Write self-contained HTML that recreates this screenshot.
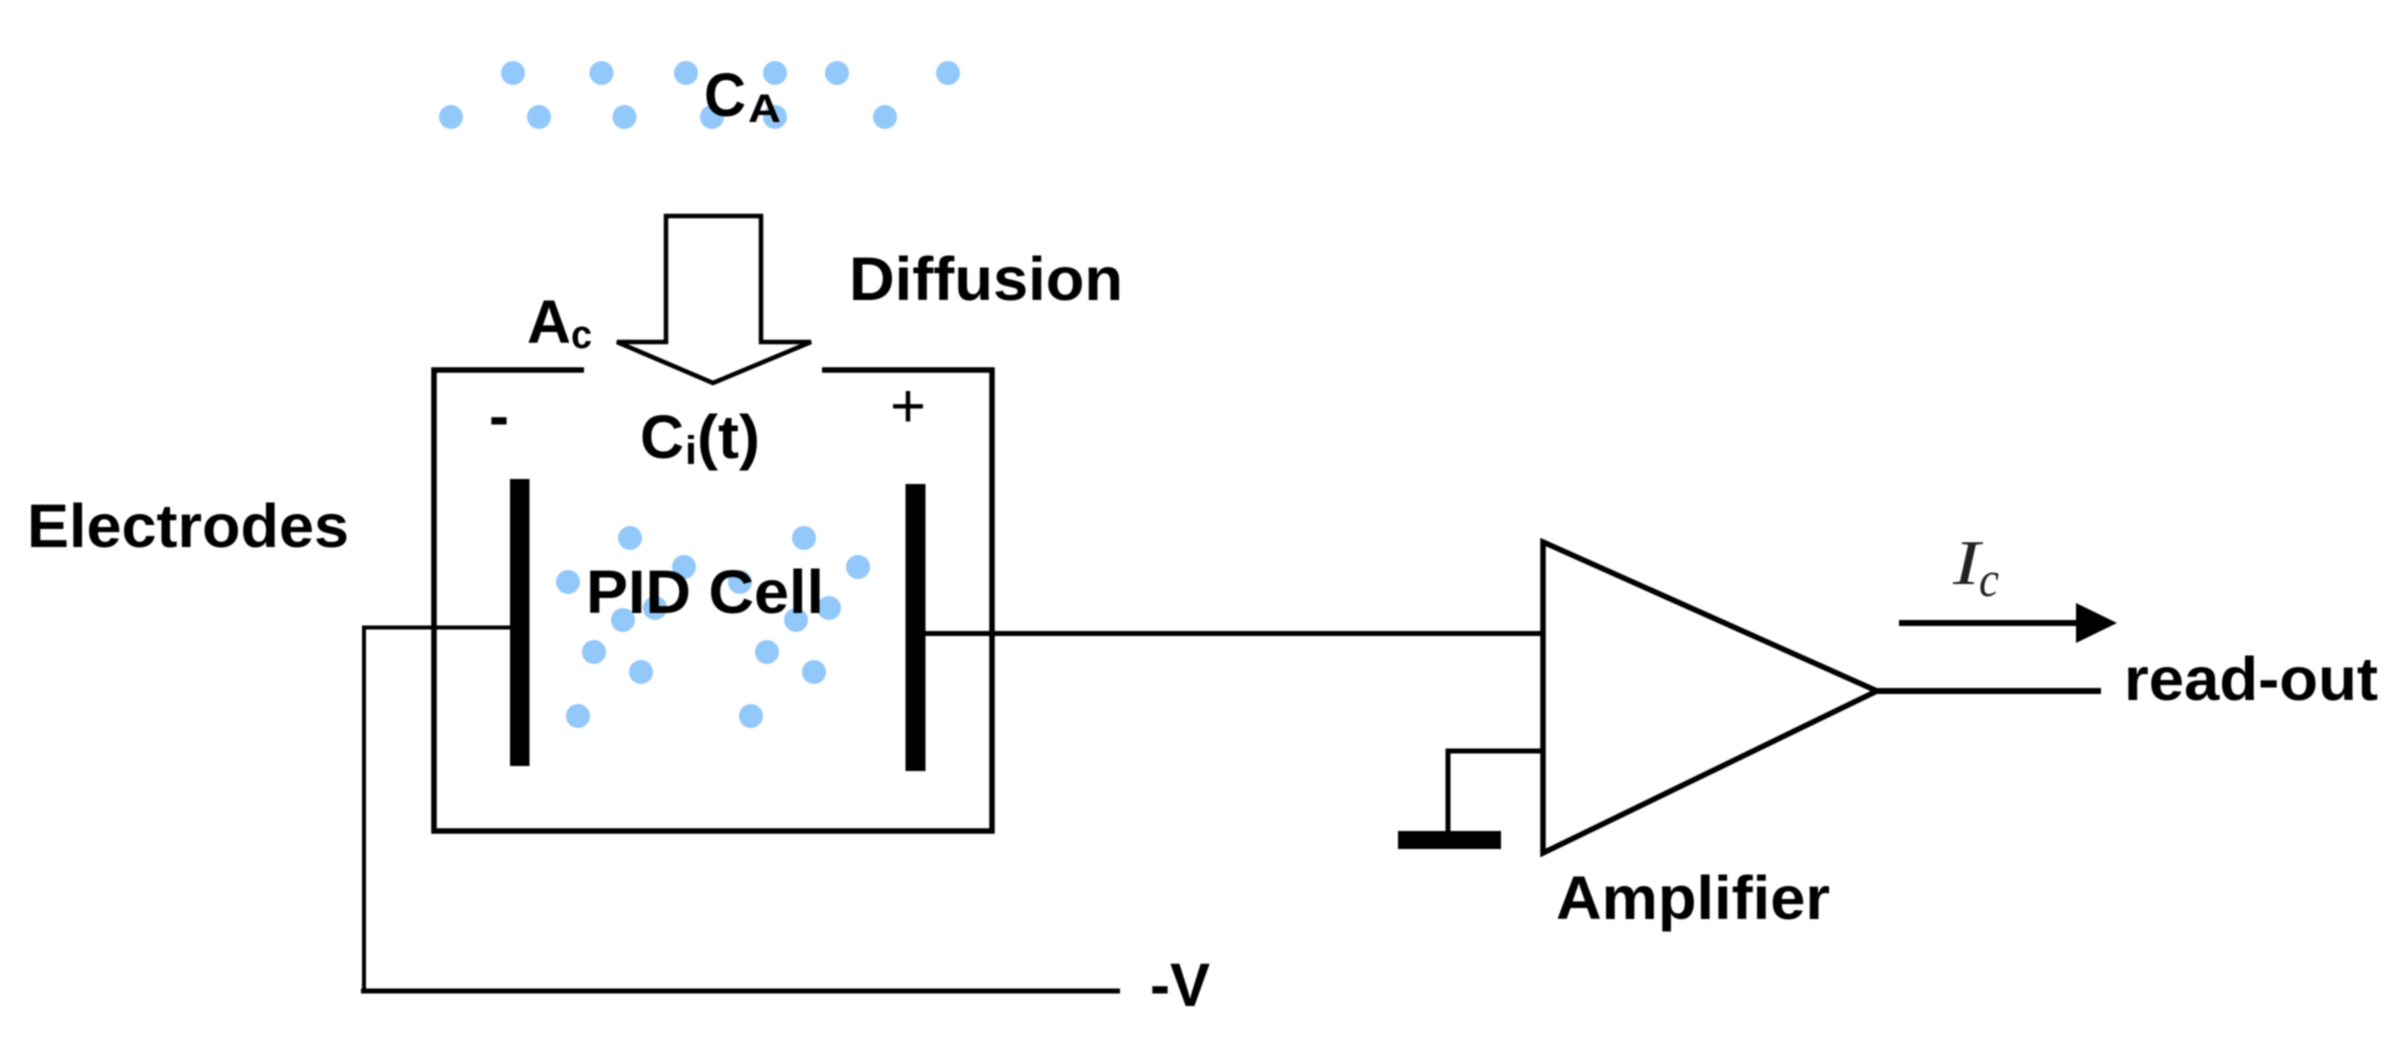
<!DOCTYPE html>
<html><head><meta charset="utf-8"><style>
html,body{margin:0;padding:0;background:#fff;width:2399px;height:1039px;overflow:hidden}
svg{display:block;filter:blur(.7px)}
text{font-family:"Liberation Sans",sans-serif;font-weight:bold;fill:#000}
.s{font-size:61px}.b{font-size:40px}
</style></head><body>
<svg width="2399" height="1039" viewBox="0 0 2399 1039" xmlns="http://www.w3.org/2000/svg">
<g fill="#93c8fb">
<circle cx="513" cy="73" r="12"/><circle cx="601.5" cy="73" r="12"/><circle cx="686" cy="73" r="12"/><circle cx="775" cy="73" r="12"/><circle cx="837" cy="73" r="12"/><circle cx="948" cy="73" r="12"/>
<circle cx="451" cy="117" r="12"/><circle cx="539" cy="117" r="12"/><circle cx="624.5" cy="117" r="12"/><circle cx="712" cy="117" r="12"/><circle cx="775" cy="117" r="12"/><circle cx="885" cy="117" r="12"/>
<circle cx="630" cy="538" r="12"/><circle cx="804" cy="538" r="12"/><circle cx="684" cy="567" r="12"/><circle cx="858" cy="567" r="12"/><circle cx="568" cy="582" r="12"/><circle cx="740" cy="582" r="12"/><circle cx="655" cy="608" r="12"/><circle cx="829" cy="608" r="12"/><circle cx="623" cy="620" r="12"/><circle cx="796" cy="620" r="12"/><circle cx="594" cy="652" r="12"/><circle cx="767" cy="652" r="12"/><circle cx="641" cy="672" r="12"/><circle cx="814" cy="672" r="12"/><circle cx="578" cy="716" r="12"/><circle cx="751" cy="716" r="12"/>
</g>
<g fill="none" stroke="#000">
<path d="M666 342V216H761V342H811L713 383L617 342Z" stroke-width="4.5" fill="#fff" stroke-linejoin="miter" stroke-miterlimit="2"/>
<path d="M584 370H434V831H992V370H822" stroke-width="5.5"/>
<path d="M510 627.5H364V991" stroke-width="4"/>
<path d="M361 991H1120" stroke-width="5"/>
<path d="M925 633.5H1543" stroke-width="5"/>
<path d="M1543 542L1877 691L1543 853Z" stroke-width="5.5" stroke-linejoin="miter" stroke-miterlimit="2.5"/>
<path d="M1875 691H2101" stroke-width="6"/>
<path d="M1542 751H1448V831" stroke-width="5"/>
<path d="M1899 623H2078" stroke-width="6"/>
</g>
<rect x="510" y="479" width="19.5" height="287"/>
<rect x="905.5" y="484" width="20" height="287"/>
<rect x="1398" y="831" width="103" height="18"/>
<path d="M2076 603L2117 623L2076 643Z"/>
<text class="s" x="704" y="116" textLength="42" lengthAdjust="spacingAndGlyphs">C</text>
<text class="b" x="748" y="122" textLength="33" lengthAdjust="spacingAndGlyphs">A</text>
<text class="s" x="849" y="300" textLength="274" lengthAdjust="spacingAndGlyphs">Diffusion</text>
<text class="s" x="527" y="343" textLength="44" lengthAdjust="spacingAndGlyphs">A</text>
<text class="b" x="571" y="348" textLength="21" lengthAdjust="spacingAndGlyphs">c</text>
<text class="s" x="489" y="437" textLength="20" lengthAdjust="spacingAndGlyphs">-</text>
<text x="890" y="427" style="font-size:62px;font-weight:normal" textLength="36" lengthAdjust="spacingAndGlyphs">+</text>
<text class="s" x="640" y="458" textLength="44" lengthAdjust="spacingAndGlyphs">C</text>
<text class="b" x="685" y="464" textLength="12" lengthAdjust="spacingAndGlyphs">i</text>
<text class="s" x="697" y="458" textLength="63" lengthAdjust="spacingAndGlyphs">(t)</text>
<text class="s" x="27" y="547" textLength="322" lengthAdjust="spacingAndGlyphs">Electrodes</text>
<text class="s" x="586" y="613" textLength="238" lengthAdjust="spacingAndGlyphs">PID Cell</text>
<text class="s" x="2124" y="700" textLength="254" lengthAdjust="spacingAndGlyphs">read-out</text>
<text class="s" x="1556" y="919" textLength="274" lengthAdjust="spacingAndGlyphs">Amplifier</text>
<text class="s" x="1150" y="1006" textLength="60" lengthAdjust="spacingAndGlyphs">-V</text>
<text x="1953" y="584" style="font-family:'Liberation Serif',serif;font-style:italic;font-weight:normal;font-size:64px;fill:#222" textLength="27" lengthAdjust="spacingAndGlyphs">I</text>
<text x="1979" y="596" style="font-family:'Liberation Serif',serif;font-style:italic;font-weight:normal;font-size:50px;fill:#222" textLength="20" lengthAdjust="spacingAndGlyphs">c</text>
</svg>
</body></html>
